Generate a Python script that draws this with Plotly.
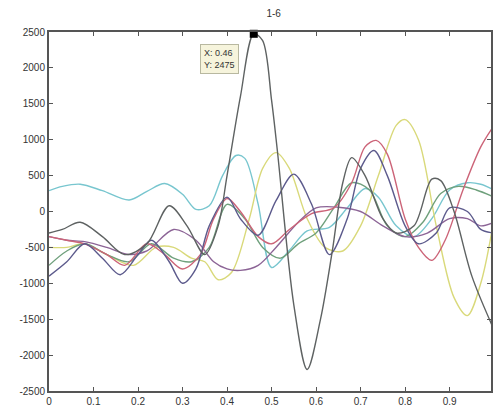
import plotly.graph_objects as go

# ---- data ----
cyan_x = [0, 0.03, 0.07, 0.12, 0.18, 0.22, 0.26, 0.30, 0.33, 0.36, 0.39, 0.42, 0.44, 0.47, 0.50, 0.54, 0.58, 0.63, 0.67, 0.71, 0.74, 0.78, 0.82, 0.86, 0.90, 0.94, 0.97, 1.0]
cyan_y = [290, 350, 380, 290, 160, 280, 390, 240, 30, 80, 500, 780, 740, 100, -780, -540, -270, -220, 50, 320, 200, -200, -350, -100, 300, 400, 380, 300]

gray_x = [0, 0.03, 0.07, 0.12, 0.17, 0.22, 0.27, 0.31, 0.35, 0.38, 0.40, 0.43, 0.46, 0.48, 0.50, 0.513, 0.55, 0.58, 0.61, 0.636, 0.66, 0.68, 0.71, 0.75, 0.78, 0.82, 0.86, 0.88, 0.91, 0.95, 1.0]
gray_y = [-300, -250, -150, -350, -600, -450, 80, -200, -600, -200, 500, 1600, 2475, 2380, 1550, 850, -1300, -2200, -1500, -570, 400, 750, 500, -100, -300, -200, 450, 430, 0, -900, -1650]

yellow_x = [0, 0.04, 0.08, 0.13, 0.19, 0.24, 0.28, 0.32, 0.35, 0.38, 0.41, 0.45, 0.48, 0.51, 0.54, 0.58, 0.62, 0.66, 0.70, 0.74, 0.78, 0.80, 0.83, 0.87, 0.91, 0.94, 0.97, 1.0]
yellow_y = [-500, -500, -450, -600, -750, -500, -500, -650, -700, -950, -850, -100, 600, 820, 600, -100, -500, -550, -200, 500, 1200, 1280, 1000, -200, -1200, -1450, -1000, -100]

red_x = [0, 0.04, 0.08, 0.13, 0.17, 0.22, 0.26, 0.30, 0.34, 0.37, 0.40, 0.43, 0.47, 0.50, 0.54, 0.59, 0.64, 0.68, 0.71, 0.735, 0.76, 0.80, 0.83, 0.86, 0.89, 0.93, 0.97, 1.0]
red_y = [-350, -400, -450, -600, -750, -450, -600, -800, -600, -100, 180, 0, -350, -450, -250, -30, 50, 400, 900, 990, 800, -100, -500, -680, -400, 300, 900, 1200]

purple_x = [0, 0.04, 0.08, 0.13, 0.18, 0.22, 0.28, 0.33, 0.37, 0.40, 0.43, 0.47, 0.51, 0.56, 0.60, 0.65, 0.70, 0.75, 0.80, 0.85, 0.90, 0.94, 0.97, 1.0]
purple_y = [-350, -400, -420, -500, -600, -550, -250, -400, -700, -800, -820, -750, -500, -150, 50, 60, 0, -200, -350, -300, -100, -100, -200, -150]

blue_x = [0, 0.04, 0.08, 0.12, 0.16, 0.20, 0.23, 0.27, 0.30, 0.33, 0.36, 0.40, 0.43, 0.47, 0.51, 0.55, 0.59, 0.63, 0.67, 0.70, 0.73, 0.76, 0.80, 0.83, 0.87, 0.90, 0.94, 0.97, 1.0]
blue_y = [-900, -700, -450, -650, -880, -600, -400, -700, -1000, -800, -200, 200, -100, -330, 150, 520, 100, -600, -100, 600, 850, 500, -200, -450, -300, 50, 0, -250, -300]

green_x = [0, 0.04, 0.08, 0.13, 0.18, 0.23, 0.28, 0.32, 0.36, 0.40, 0.44, 0.48, 0.52, 0.56, 0.60, 0.64, 0.68, 0.72, 0.76, 0.80, 0.84, 0.88, 0.92, 0.96, 1.0]
green_y = [-750, -550, -450, -600, -700, -450, -650, -700, -500, 100, -100, -500, -650, -450, -300, 50, 400, 300, -200, -350, -150, 250, 350, 300, 200]

tip_x = [0.46]
tip_y = [2475]

x_ticks = [0, 0.1, 0.2, 0.3, 0.4, 0.5, 0.6, 0.7, 0.8, 0.9]
x_tick_text = ["0", "0.1", "0.2", "0.3", "0.4", "0.5", "0.6", "0.7", "0.8", "0.9"]
y_ticks = [2500, 2000, 1500, 1000, 500, 0, -500, -1000, -1500, -2000, -2500]
y_tick_text = ["2500", "2000", "1500", "1000", "500", "0", "-500", "-1000", "-1500", "-2000", "-2500"]

series = [
    (cyan_x, cyan_y, "#78c6cf"),
    (yellow_x, yellow_y, "#d9d97a"),
    (green_x, green_y, "#6fa07c"),
    (purple_x, purple_y, "#8c6496"),
    (red_x, red_y, "#cc6478"),
    (blue_x, blue_y, "#5c5a8c"),
    (gray_x, gray_y, "#5e6262"),
]

fig = go.Figure()
for xs, ys, c in series:
    fig.add_trace(go.Scatter(x=xs, y=ys, mode="lines",
                             line=dict(color=c, width=1.4, shape="spline", smoothing=0.9),
                             showlegend=False, hoverinfo="skip"))

fig.add_trace(go.Scatter(x=tip_x, y=tip_y, mode="markers",
                         marker=dict(symbol="square", size=8, color="black"),
                         showlegend=False, cliponaxis=False))

fig.add_annotation(x=0.383, y=2130, xref="x", yref="y",
                   text=f"X: {tip_x[0]:.2f}<br>Y: {tip_y[0]}",
                   showarrow=False, align="left",
                   font=dict(family="Liberation Sans", size=9, color="#333"),
                   bgcolor="#f6f4dc", bordercolor="#b8b8a0", borderwidth=1, borderpad=3)

fig.update_layout(
    width=493, height=411,
    margin=dict(l=49, r=0, t=32, b=20),
    paper_bgcolor="white", plot_bgcolor="white",
    title=dict(text="1-6", x=0.555, xanchor="center", y=0.975, yanchor="top",
               font=dict(family="Liberation Sans", size=10, color="#333")),
    font=dict(family="Liberation Sans", size=10, color="#333"),
)
axis_common = dict(showgrid=False, zeroline=False, showline=True, linecolor="#555",
                   linewidth=2, mirror="allticks", ticks="inside", ticklen=4,
                   tickcolor="#555", tickfont=dict(family="Liberation Sans", size=10, color="#333"))
fig.update_xaxes(range=[0, 0.993], tickvals=x_ticks, ticktext=x_tick_text, **axis_common)
fig.update_yaxes(range=[-2500, 2500], tickvals=y_ticks, ticktext=y_tick_text, **axis_common)

fig.write_html("out.html")
